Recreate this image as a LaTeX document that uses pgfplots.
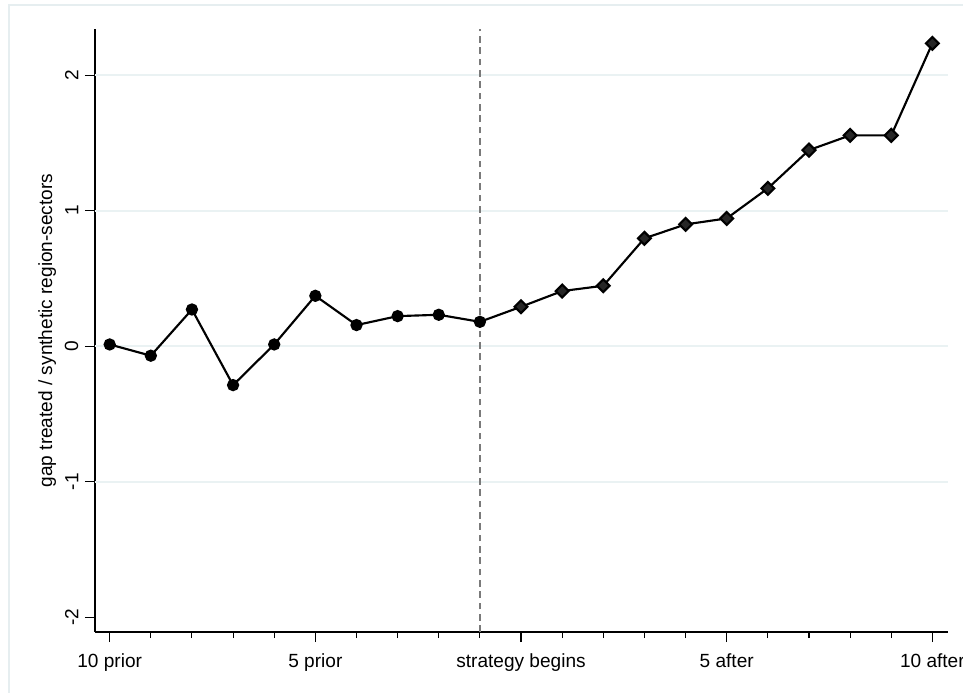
\documentclass[border=0pt]{standalone}
\usepackage{pgfplots}
\pgfplotsset{compat=1.18}
\usepackage{fontspec}
\setmainfont{Liberation Sans}
\definecolor{gridcol}{HTML}{EAF2F3}
\definecolor{framecol}{HTML}{E6EEF0}
\definecolor{dashcol}{HTML}{7A7A7A}
\pgfplotstableread{
x y
0 0.012
1 -0.071
2 0.270
3 -0.288
4 0.012
5 0.371
6 0.155
7 0.221
8 0.231
9 0.179
}\pre
\pgfplotstableread{
x y
9 0.179
10 0.290
11 0.406
12 0.445
13 0.795
14 0.898
15 0.942
16 1.164
17 1.446
18 1.555
19 1.555
20 2.234
}\post
\begin{document}
\fontsize{14.3}{17}\selectfont
\begin{tikzpicture}
\path[use as bounding box] (-71.25pt,-45pt) rectangle (651pt,474pt);
\draw[framecol, line width=1.1pt] (-64.5pt,470.25pt) rectangle (660pt,-60pt);
\begin{axis}[
  at={(0pt,0pt)}, anchor=south west,
  scale only axis, width=639.75pt, height=452.25pt,
  xmin=-0.357, xmax=20.38, ymin=-2.11, ymax=2.34,
  axis x line=bottom, axis y line=left,
  axis line style={-, line width=0.9pt, black},
  xtick={0,5,10,15,20},
  xticklabels={10 prior,5 prior,strategy begins,5 after,10 after},
  minor xtick={1,2,3,4,6,7,8,9,11,12,13,14,16,17,18,19},
  ytick={-2,-1,0,1,2},
  tick align=outside,
  major tick length=7.5pt, minor tick length=4.5pt,
  tick style={black, line width=0.8pt},
  /pgf/number format/assume math mode=true,
  tick label style={font=\fontsize{14.3}{17}\selectfont},
  xticklabel style={yshift=-3.5pt},
  yticklabel style={rotate=90, anchor=south},
  ylabel={gap treated / synthetic region-sectors},
  ylabel style={at={(axis description cs:-0.056,0.5)}, anchor=center, font=\fontsize{14.3}{17}\selectfont},
  clip=false,
]
\pgfplotsinvokeforeach{-1,0,1,2}{
  \draw[gridcol, line width=1.5pt] (axis cs:-0.357,#1) -- (axis cs:20.38,#1);
}
\draw[dashcol, line width=1.1pt, dash pattern=on 5pt off 3.5pt] (axis cs:9,-2.11) -- (axis cs:9,2.34);
\addplot[black, line width=1.6pt, mark=*, mark size=3.8pt, mark options={solid}] table[x=x,y=y] {\pre};
\addplot[black, line width=1.6pt, mark=square*, mark size=3.4pt, mark options={solid, rotate=45, fill=black!85}, mark indices={2,3,4,5,6,7,8,9,10,11,12}] table[x=x,y=y] {\post};
\addplot[black, only marks, mark=*, mark size=3.8pt] coordinates {(9,0.179)};
\end{axis}
\end{tikzpicture}
\end{document}
